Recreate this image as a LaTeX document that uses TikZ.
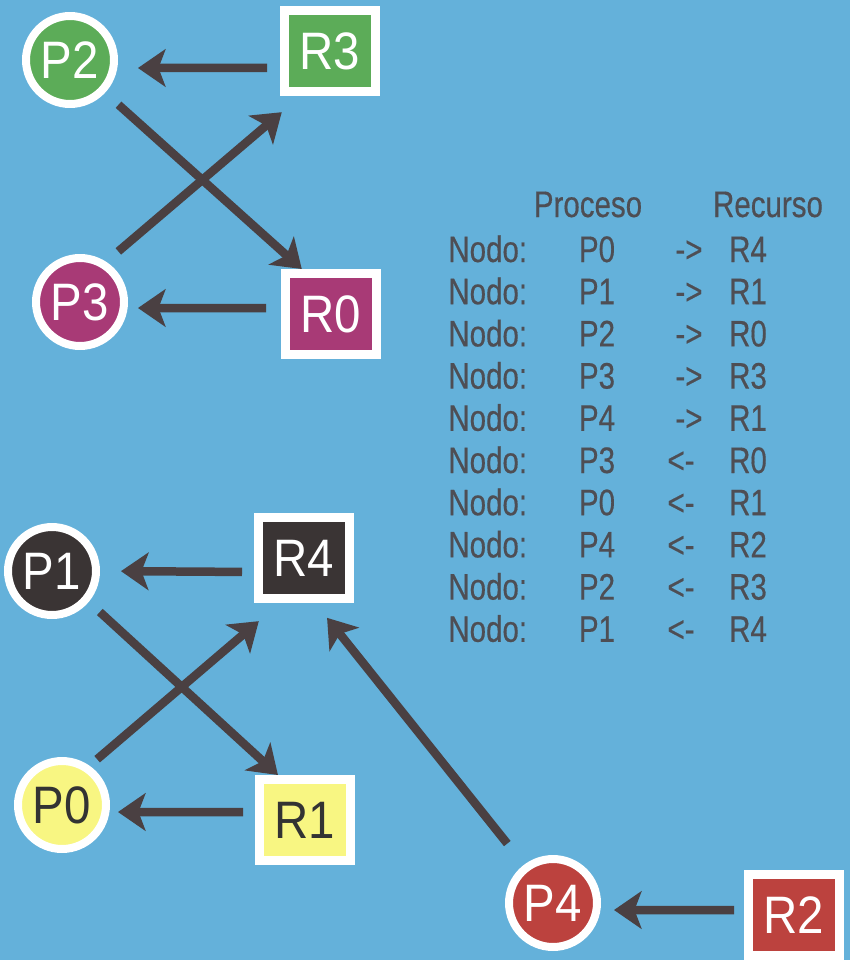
\documentclass[tikz,border=0pt]{standalone}
\usepackage{fontspec}
\usepackage{xcolor}
\usepackage{tikz}
\usetikzlibrary{arrows.meta}
\newfontfamily\nodefont[FakeStretch=0.9]{Liberation Sans}
\newfontfamily\tablefont[FakeStretch=0.8,FakeBold=0.4]{Liberation Sans}
\definecolor{bgblue}{RGB}{100,177,218}
\definecolor{pgreen}{RGB}{92,172,88}
\definecolor{pmag}{RGB}{168,58,118}
\definecolor{pdark}{RGB}{58,52,52}
\definecolor{pyel}{RGB}{248,246,130}
\definecolor{pred}{RGB}{188,66,62}
\definecolor{arrowgray}{RGB}{74,64,66}
\definecolor{textgray}{RGB}{78,78,84}
\tikzstyle{proc} = [circle, draw=white, line width=0.16cm, minimum size=1.76cm, inner sep=0pt, text=white, font=\nodefont\fontsize{30}{31}\selectfont]
\tikzstyle{res} = [rectangle, draw=white, line width=0.18cm, minimum width=1.82cm, minimum height=1.62cm, inner sep=0pt, text=white, font=\nodefont\fontsize{30}{31}\selectfont]
\tikzstyle{link} = [draw=arrowgray, line width=0.17cm, -{Stealth[length=0.55cm,width=0.75cm,inset=0.14cm]}]
\tikzstyle{tabla} = [font=\tablefont\fontsize{21}{22}\selectfont, text=textgray, anchor=base, inner sep=0pt]

\begin{document}
\begin{tikzpicture}[x=0.02cm, y=-0.02cm]
        \useasboundingbox (0,0) rectangle (850,960);
        \fill[bgblue] (0,0) rectangle (850,960);

        % Procesos y recursos
        \node[proc, fill=pgreen] (P2) at (70,60) {P2};
        \node[res, fill=pgreen] (R3) at (330,51) {R3};
        \node[proc, fill=pmag] (P3) at (80,302) {P3};
        \node[res, fill=pmag] (R0) at (331,314) {R0};
        \node[proc, fill=pdark] (P1) at (52,571) {P1};
        \node[res, fill=pdark] (R4) at (304,558) {R4};
        \node[proc, fill=pyel, text=black!80] (P0) at (62,805) {P0};
        \node[res, fill=pyel, text=black!80] (R1) at (305,820) {R1};
        \node[proc, fill=pred] (P4) at (553,903) {P4};
        \node[res, fill=pred] (R2) at (794,915) {R2};

        % Asignaciones (recurso -> proceso)
        \draw[link, shorten <=0.26cm, shorten >=0.4cm] ([yshift=-0.34cm]R3.west) -- ([yshift=-0.16cm]P2.east);
        \draw[link, shorten <=0.3cm, shorten >=0.2cm] ([yshift=0.12cm]R0.west) -- ([yshift=-0.12cm]P3.east);
        \draw[link, shorten <=0.24cm, shorten >=0.42cm] ([yshift=-0.28cm]R4.west) -- (P1.east);
        \draw[link, shorten <=0.24cm, shorten >=0.16cm] ([yshift=0.16cm]R1.west) -- ([yshift=-0.14cm]P0.east);
        \draw[link, shorten <=0.2cm, shorten >=0.26cm] ([yshift=0.1cm]R2.west) -- ([yshift=-0.14cm]P4.east);

        % Peticiones (proceso -> recurso)
        \draw[link, shorten <=0.36cm] (P2.-43) -- (R0.123);
        \draw[link, shorten <=0.32cm, shorten >=0.5cm] (P3.57) -- (R3.237);
        \draw[link, shorten <=0.3cm] (P1.-40) -- (R1.121);
        \draw[link, shorten <=0.2cm, shorten >=0.56cm] (P0.55) -- (R4.242);
        \draw[link, shorten <=0.54cm, shorten >=0.38cm] (P4.127) -- (R4.-76);

        % Tabla
        \node[tabla] (hproc) at (588,217) {Proceso};
        \node[tabla] (hrec) at (768,217) {Recurso};
        \foreach \p/\a/\ax/\r [count=\i from 0] in {P0/->/689/R4, P1/->/689/R1, P2/->/689/R0, P3/->/689/R3, P4/->/689/R1, P3/<-/681/R0, P0/<-/681/R1, P4/<-/681/R2, P2/<-/681/R3, P1/<-/681/R4} {
            \node[tabla, anchor=base west] (nodo\i) at (448,262+42.2*\i) {Nodo:};
            \node[tabla] (pr\i) at (597,262+42.2*\i) {\p};
            \node[tabla] (fl\i) at (\ax,262+42.2*\i) {\a};
            \node[tabla] (rc\i) at (748,262+42.2*\i) {\r};
        }
\end{tikzpicture}
\end{document}
